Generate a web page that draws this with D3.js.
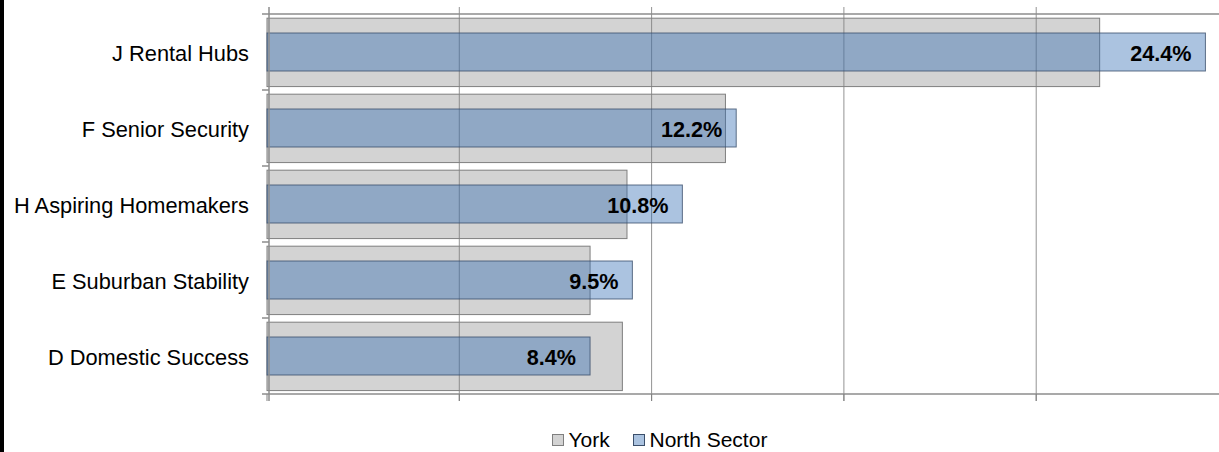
<!DOCTYPE html>
<html>
<head>
<meta charset="utf-8">
<script src="https://cdn.jsdelivr.net/npm/d3@7"></script>
<style>
  html, body { margin: 0; padding: 0; background: #fff; }
  svg { display: block; }
  text { font-family: "Liberation Sans", Arial, sans-serif; }
</style>
</head>
<body>
<svg id="chart" width="1219" height="452"></svg>
<script>
const categories = ["J Rental Hubs", "F Senior Security", "H Aspiring Homemakers", "E Suburban Stability", "D Domestic Success"];
const yorkValues = [21.65, 11.92, 9.36, 8.40, 9.24];
const northValues = [24.4, 12.2, 10.8, 9.5, 8.4];
const seriesNames = ["York", "North Sector"];
const xTicks = [0, 5, 10, 15, 20, 25];

const svg = d3.select("#chart");
const W = 1219, H = 452;

// left black edge
svg.append("rect").attr("x", 0).attr("y", 0).attr("width", 4).attr("height", H).attr("fill", "#000");

const x = d3.scaleLinear().domain([0, 25]).range([267, 1228.5]);
const y = d3.scaleBand().domain(categories).range([14, 394]).padding(0);
const bw = y.bandwidth();

// York bars (behind)
svg.append("g").selectAll("rect").data(categories).join("rect")
  .attr("x", x(0))
  .attr("y", (d) => y(d) + bw * 0.055)
  .attr("width", (d, i) => x(yorkValues[i]) - x(0))
  .attr("height", bw * 0.9)
  .attr("fill", "#d3d3d3")
  .attr("stroke", "#7f7f7f")
  .attr("stroke-width", 1);

// gridlines
svg.append("g").selectAll("line").data(xTicks.filter(t => t > 0)).join("line")
  .attr("x1", d => x(d)).attr("x2", d => x(d))
  .attr("y1", 7).attr("y2", 401)
  .attr("stroke", "#808080").attr("stroke-opacity", 0.85).attr("stroke-width", 1);

// North Sector bars (semi-transparent)
svg.append("g").selectAll("rect").data(categories).join("rect")
  .attr("x", x(0))
  .attr("y", (d) => y(d) + bw * 0.25)
  .attr("width", (d, i) => x(northValues[i]) - x(0))
  .attr("height", bw * 0.5)
  .attr("fill", "rgb(45,104,178)")
  .attr("fill-opacity", 0.4)
  .attr("stroke", "#3b4f6b")
  .attr("stroke-opacity", 0.8)
  .attr("stroke-width", 1);

// horizontal axis lines (top and bottom)
svg.append("line").attr("x1", 269).attr("x2", W).attr("y1", 14).attr("y2", 14)
  .attr("stroke", "#8c8c8c").attr("stroke-width", 1.5);
svg.append("line").attr("x1", 269).attr("x2", W).attr("y1", 394).attr("y2", 394)
  .attr("stroke", "#8c8c8c").attr("stroke-width", 1.5);

// bottom ticks
svg.append("g").selectAll("line").data(xTicks).join("line")
  .attr("x1", d => x(d)).attr("x2", d => x(d))
  .attr("y1", 394).attr("y2", 401)
  .attr("stroke", "#808080");

// left axis
svg.append("line").attr("x1", 269).attr("x2", 269).attr("y1", 7).attr("y2", 401)
  .attr("stroke", "#8c8c8c").attr("stroke-width", 1.5);
const bounds = categories.map(c => y(c)).concat([y.range()[1]]);
svg.append("g").selectAll("line").data(bounds).join("line")
  .attr("x1", 262).attr("x2", 269)
  .attr("y1", d => d).attr("y2", d => d)
  .attr("stroke", "#8c8c8c").attr("stroke-width", 1.5);

// category labels
svg.append("g").selectAll("text").data(categories).join("text")
  .attr("x", 249)
  .attr("y", d => y(d) + bw / 2 + 1.5)
  .attr("text-anchor", "end")
  .attr("dominant-baseline", "central")
  .attr("font-size", "21.8px")
  .attr("fill", "#000")
  .text(d => d);

// value labels
svg.append("g").selectAll("text").data(categories).join("text")
  .attr("x", (d, i) => x(northValues[i]) - 14)
  .attr("y", d => y(d) + bw / 2 + 1.5)
  .attr("text-anchor", "end")
  .attr("dominant-baseline", "central")
  .attr("font-size", "21.6px")
  .attr("font-weight", "bold")
  .attr("fill", "#000")
  .text((d, i) => d3.format(".1f")(northValues[i]) + "%");

// legend
const legend = svg.append("g");
const legendItems = [
  { name: seriesNames[0], x: 552, fill: "#d3d3d3", stroke: "#7f7f7f", op: 1 },
  { name: seriesNames[1], x: 633, fill: "rgb(45,104,178)", stroke: "#3b4f6b", op: 0.4 }
];
legendItems.forEach(it => {
  legend.append("rect").attr("x", it.x + 0.5).attr("y", 434.5).attr("width", 11).attr("height", 11)
    .attr("fill", it.fill).attr("fill-opacity", it.op).attr("stroke", it.stroke);
  legend.append("text").attr("x", it.x + 16.5).attr("y", 447)
    .attr("font-size", "21px").attr("fill", "#000").text(it.name);
});
</script>
</body>
</html>
